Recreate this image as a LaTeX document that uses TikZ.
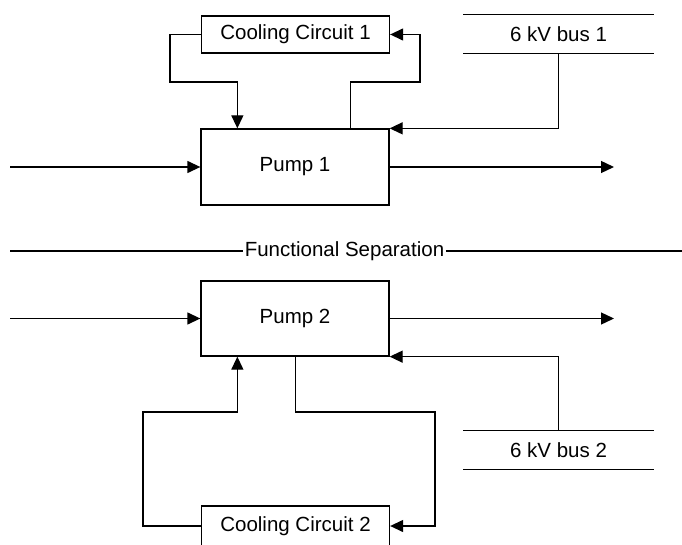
\documentclass[tikz,border=0pt]{standalone}
\usepackage{fontspec}
\setmainfont{Liberation Sans}
\usetikzlibrary{arrows.meta}
\begin{document}
\begin{tikzpicture}[x=1pt,y=-1pt,
  line width=1.3pt,
  font=\fontsize{20.5}{24}\selectfont,
  box/.style={draw, rectangle, inner sep=0pt, minimum width=188, line width=1.3pt},
  busbar/.style={inner sep=0pt, minimum width=189, minimum height=38},
  arr/.style={-{Triangle[length=13pt,width=12pt]}},
  plain/.style={line width=1.3pt}]
\useasboundingbox (0,0) rectangle (682,545);
\clip (0,0) rectangle (682,545);
% nodes
\node[box, minimum height=37] (cc1) at (295.5,34.5) {Cooling Circuit 1};
\node[busbar] (bus1) at (558.5,34) {6 kV bus 1};
\node[box, minimum height=76] (pump1) at (295,167) {Pump 1};
\node[inner sep=1pt] (sep) at (344.5,251) {Functional Separation};
\node[box, minimum height=75] (pump2) at (295,318.5) {Pump 2};
\node[busbar] (bus2) at (558.5,450) {6 kV bus 2};
\node[box, minimum height=40] (cc2) at (295.5,526) {Cooling Circuit 2};
% coordinates
\coordinate (in1) at (10,167);
\coordinate (out1) at (614,167);
\coordinate (in2) at (10,318.5);
\coordinate (out2) at (614,318.5);
\coordinate (sepL) at (10,251);
\coordinate (sepR) at (682,251);
\coordinate (c1a) at (170,82);
\coordinate (c1b) at (420,82);
\coordinate (c2a) at (143,412);
\coordinate (c2b) at (435,412);
\coordinate (p1in) at ([xshift=37]pump1.north west);
\coordinate (p1out) at ([xshift=150]pump1.north west);
\coordinate (p2in) at ([xshift=37]pump2.south west);
\coordinate (p2out) at ([xshift=95]pump2.south west);
% bus bars
\draw[plain] (bus1.north west) -- (bus1.north east);
\draw[plain] (bus1.south west) -- (bus1.south east);
\draw[plain] (bus2.north west) -- (bus2.north east);
\draw[plain] (bus2.south west) -- (bus2.south east);
% separation
\draw[plain] (sepL) -- (sep.west);
\draw[plain] (sep.east) -- (sepR);
% flows
\draw[arr] (in1) -- (pump1.west);
\draw[arr] (pump1.east) -- (out1);
\draw[arr] (in2) -- (pump2.west);
\draw[arr] (pump2.east) -- (out2);
% cooling circuit 1
\draw[arr] (cc1.west) -| (c1a) -| (p1in);
\draw[arr] (p1out) |- (c1b) |- (cc1.east);
% cooling circuit 2
\draw[arr] (cc2.west) -| (c2a) -| (p2in);
\draw[arr] (p2out) |- (c2b) |- (cc2.east);
% power
\draw[arr] (bus1.south) |- (pump1.north east);
\draw[arr] (bus2.north) |- (pump2.south east);
\end{tikzpicture}
\end{document}
